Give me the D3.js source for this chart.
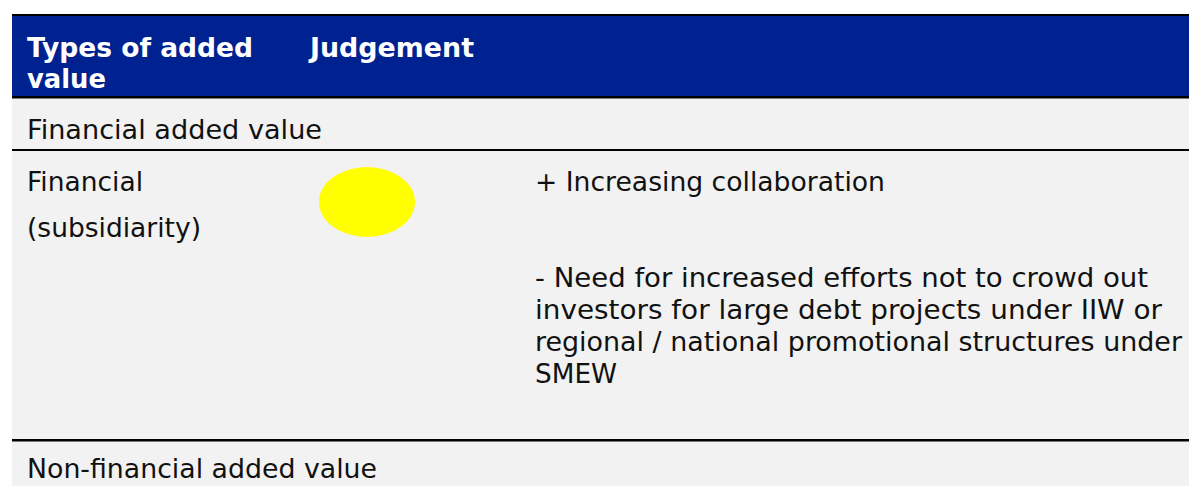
<!DOCTYPE html>
<html><head><meta charset="utf-8">
<script src="https://cdn.jsdelivr.net/npm/d3@7"></script>
<style>html,body{margin:0;padding:0;background:#fff;}svg{display:block;}</style>
</head><body><div id="chart"></div>
<script>
// ---- data ----
const headers = [["Types of added", "value"], ["Judgement"]];
const sections = ["Financial added value", "Non-financial added value"];
const rowLabel = ["Financial", "(subsidiarity)"];
const judgementColors = ["#ffff00"];
const plusComments = ["+ Increasing collaboration"];
const minusComments = ["- Need for increased efforts not to crowd out",
  "investors for large debt projects under IIW or",
  "regional / national promotional structures under",
  "SMEW"];

// ---- layout ----
const W = 1189, H = 486;
const left = 12, textX = 27;
const svg = d3.select("#chart").append("svg").attr("width", W).attr("height", H);
const font = "Verdana, 'DejaVu Sans', sans-serif";

svg.append("rect").attr("x", left).attr("y", 16).attr("width", W - left).attr("height", H - 16).attr("fill", "#f2f2f2");
svg.append("rect").attr("x", left).attr("y", 16).attr("width", W - left).attr("height", 80).attr("fill", "#002290");

const rules = [[14, 2], [96, 2.5], [149, 2], [439, 2.5]];
svg.selectAll("rect.rule").data(rules).join("rect").attr("class", "rule")
  .attr("x", left).attr("width", W - left).attr("y", d => d[0]).attr("height", d => d[1]).attr("fill", "#000");

const colX = d3.scaleOrdinal().domain([0, 1]).range([textX, 310]);
const hdrW = [[226, 79], [164]];
headers.forEach((lines, i) => {
  lines.forEach((l, j) => svg.append("text").attr("font-family", font).attr("font-weight", "bold")
    .attr("font-size", 26.5).attr("fill", "#fff")
    .attr("x", colX(i)).attr("y", 57 + j * 31)
    .attr("textLength", hdrW[i][j]).attr("lengthAdjust", "spacingAndGlyphs").text(l));
});

const secY = d3.scaleOrdinal().domain(sections).range([139, 478]);
const secW = [295, 350];
svg.selectAll("text.sec").data(sections).join("text").attr("class", "sec")
  .attr("x", textX).attr("y", d => secY(d)).attr("font-family", font).attr("font-size", 26.5)
  .attr("textLength", (d, i) => secW[i]).attr("lengthAdjust", "spacingAndGlyphs")
  .attr("fill", "#111").text(d => d);

const labY = d3.scaleOrdinal().domain(rowLabel).range([191, 237]);
svg.selectAll("text.lab").data(rowLabel).join("text").attr("class", "lab")
  .attr("x", textX).attr("y", d => labY(d)).attr("font-family", font).attr("font-size", 26.5)
  .attr("fill", "#111").text(d => d);

svg.selectAll("ellipse").data(judgementColors).join("ellipse")
  .attr("cx", 367).attr("cy", 202).attr("rx", 48).attr("ry", 35).attr("fill", d => d);

svg.selectAll("text.plus").data(plusComments).join("text").attr("class", "plus")
  .attr("x", 535).attr("y", 191).attr("font-family", font).attr("font-size", 26.5)
  .attr("textLength", 350).attr("lengthAdjust", "spacingAndGlyphs")
  .attr("fill", "#111").text(d => d);

const minusY = d3.scaleLinear().domain([0, minusComments.length - 1]).range([287, 383]);
const minusW = [613, 627, 647, 82];
svg.selectAll("text.minus").data(minusComments).join("text").attr("class", "minus")
  .attr("x", 535).attr("y", (d, i) => minusY(i))
  .attr("font-family", font).attr("font-size", 26.5)
  .attr("textLength", (d, i) => minusW[i]).attr("lengthAdjust", "spacingAndGlyphs")
  .attr("fill", "#111").text(d => d);
</script></body></html>
